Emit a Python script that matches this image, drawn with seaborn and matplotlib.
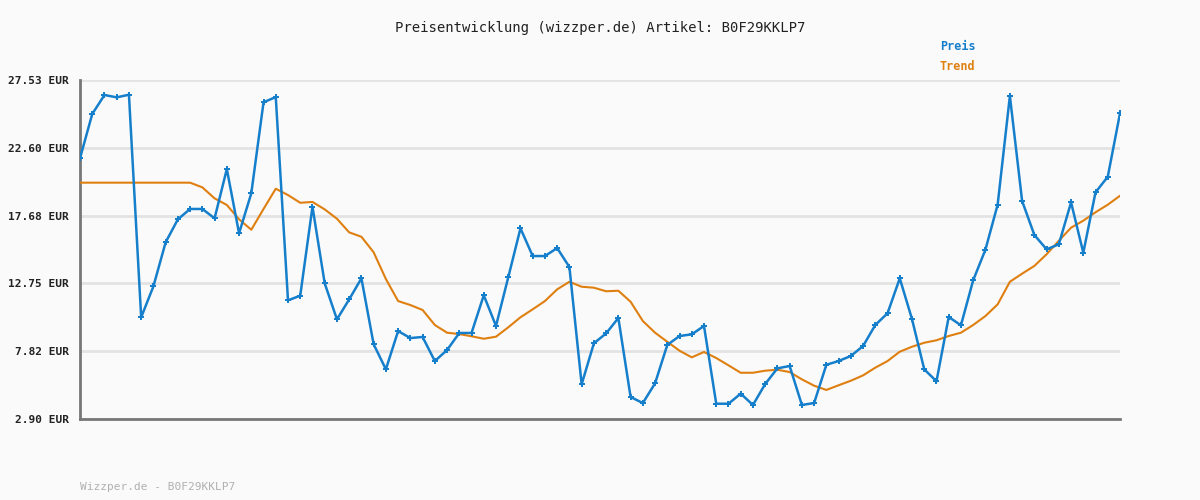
import numpy as np
import pandas as pd
import matplotlib
matplotlib.use("Agg")
import matplotlib.pyplot as plt
import seaborn as sns

## Data ##
preis = [21.84, 25.06, 26.44, 26.27, 26.46, 10.29, 12.54, 15.74, 17.41, 18.16,
         18.16, 17.48, 21.06, 16.39, 19.30, 25.91, 26.29, 11.52, 11.86, 18.32,
         12.76, 10.14, 11.59, 13.12, 8.33, 6.51, 9.29, 8.78, 8.86, 7.11,
         7.91, 9.15, 9.15, 11.89, 9.66, 13.19, 16.75, 14.74, 14.74, 15.32,
         13.94, 5.42, 8.40, 9.12, 10.24, 4.50, 4.06, 5.49, 8.28, 8.93,
         9.05, 9.66, 4.01, 4.01, 4.74, 3.92, 5.44, 6.58, 6.75, 3.92,
         4.06, 6.84, 7.11, 7.48, 8.20, 9.73, 10.58, 13.12, 10.16, 6.51,
         5.64, 10.31, 9.71, 12.98, 15.20, 18.47, 26.37, 18.74, 16.27, 15.23,
         15.59, 18.64, 14.98, 19.37, 20.50, 25.11]

trend = [20.07, 20.07, 20.07, 20.07, 20.07, 20.07, 20.07, 20.07, 20.07, 20.07,
         19.73, 18.93, 18.45, 17.41, 16.65, 18.16, 19.63, 19.17, 18.61, 18.67,
         18.13, 17.45, 16.46, 16.14, 15.01, 13.07, 11.47, 11.18, 10.82, 9.73,
         9.17, 9.07, 8.91, 8.73, 8.88, 9.56, 10.29, 10.87, 11.47, 12.32,
         12.87, 12.51, 12.44, 12.18, 12.22, 11.42, 10.02, 9.17, 8.51, 7.86,
         7.38, 7.77, 7.33, 6.80, 6.26, 6.26, 6.41, 6.48, 6.31, 5.78,
         5.32, 5.01, 5.35, 5.68, 6.07, 6.63, 7.11, 7.79, 8.15, 8.44,
         8.62, 8.93, 9.17, 9.73, 10.38, 11.23, 12.87, 13.46, 14.02, 14.87,
         15.85, 16.80, 17.31, 17.92, 18.47, 19.12]

y_ticks = [2.90, 7.82, 12.75, 17.68, 22.60, 27.53]

title = "Preisentwicklung (wizzper.de) Artikel: B0F29KKLP7"
footer = "Wizzper.de - B0F29KKLP7"

df = pd.DataFrame({"idx": np.arange(len(preis)), "Preis": preis, "Trend": trend})

blue = "#167fcc"
orange = "#df7f10"
bg = "#fafafa"

sns.set_style("white")
plt.rcParams['font.family'] = ['DejaVu Sans Mono']

fig = plt.figure(figsize=(12, 5), dpi=100, facecolor=bg)
ax = fig.add_axes([80 / 1200, 1 - 419 / 500, 1040 / 1200, 339 / 500])
ax.set_facecolor(bg)

sns.lineplot(data=df, x="idx", y="Trend", ax=ax, color=orange, linewidth=1.5, zorder=3)
sns.lineplot(data=df, x="idx", y="Preis", ax=ax, color=blue, linewidth=1.8,
             marker="P", markersize=4.5, markeredgewidth=0, zorder=4)

ax.set_xlim(0, len(preis) - 1)
ax.set_ylim(y_ticks[0], y_ticks[-1])
ax.set_yticks(y_ticks)
ax.set_yticklabels([f"{v:.2f} EUR" for v in y_ticks], fontsize=8, fontweight="bold", color="#222222")
ax.set_xticks([])
ax.set_xlabel("")
ax.set_ylabel("")
ax.tick_params(axis="y", length=0, pad=8)
ax.grid(axis="y", color="#e3e3e3", linewidth=2)
ax.set_axisbelow(True)

for s in ["top", "right"]:
    ax.spines[s].set_visible(False)
for s in ["left", "bottom"]:
    ax.spines[s].set_color("#777777")
    ax.spines[s].set_linewidth(2)

fig.text(0.5, 1 - 28 / 500, title, ha="center", va="center", fontsize=10, color="#222222")
fig.text(940 / 1200, 1 - 47 / 500, "Preis", ha="left", va="center", fontsize=8.5, fontweight="bold", color=blue)
fig.text(940 / 1200, 1 - 67 / 500, "Trend", ha="left", va="center", fontsize=8.5, fontweight="bold", color=orange)
fig.text(80 / 1200, 1 - 487 / 500, footer, ha="left", va="center", fontsize=8, color="#b0b0b0")

fig.savefig("out.png", dpi=100, facecolor=bg)
